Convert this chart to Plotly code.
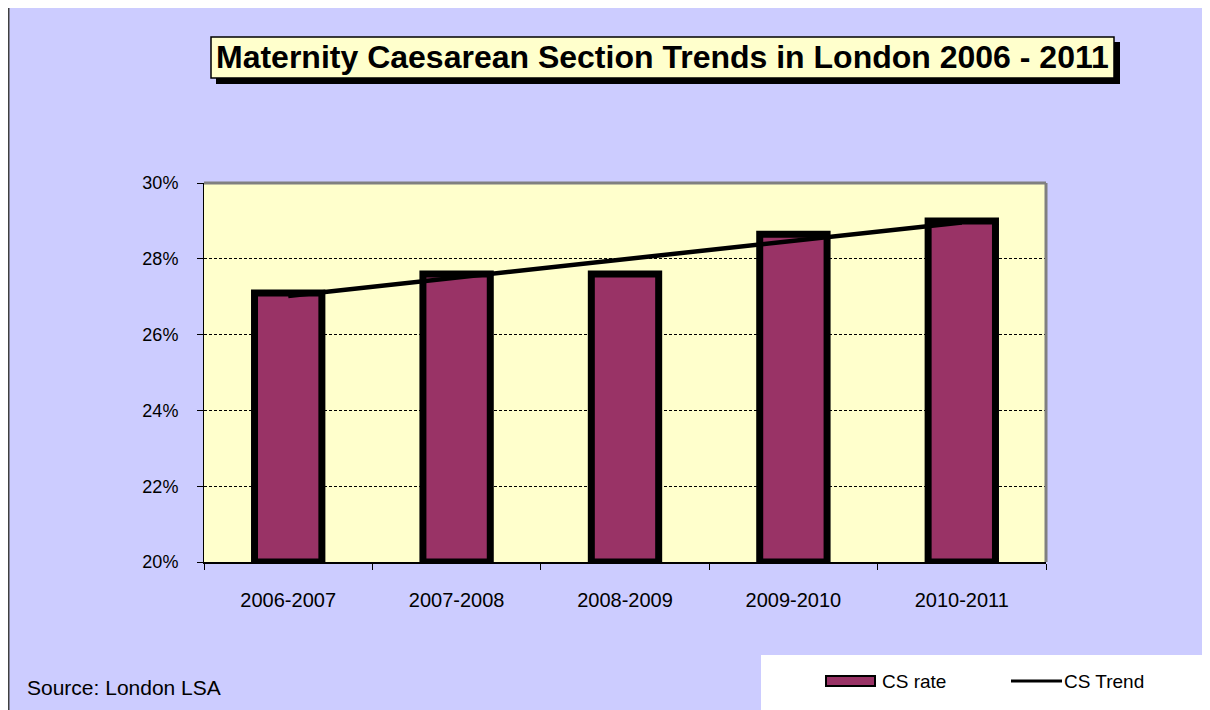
import numpy as np
import plotly.graph_objects as go

# ---- data ----
periods = ["2006-2007", "2007-2008", "2008-2009", "2009-2010", "2010-2011"]
cs_rate = [0.271, 0.276, 0.276, 0.2865, 0.290]
y_ticks = [0.20, 0.22, 0.24, 0.26, 0.28, 0.30]
title_text = "Maternity Caesarean Section Trends in London 2006 - 2011"
source_text = "Source: London LSA"
legend_labels = ["CS rate", "CS Trend"]

# linear trend line (least squares, as in the spreadsheet's trendline)
idx = np.arange(len(periods))
slope, intercept = np.polyfit(idx, cs_rate, 1)
cs_trend = list(slope * idx + intercept)

BASE = 0.20
OFF = 8  # page body margin
W, H = 1210 - OFF, 710 - OFF
L, R, T, B = 204, 1046, 183, 562  # plot area in screen pixels

def px(x):
    return (x - L) / (R - L)

def py(y):
    return (B - y) / (B - T)

FONT = "Liberation Sans, Arial, sans-serif"
BAR_COLOR = "#993366"

fig = go.Figure()
fig.add_trace(go.Bar(
    x=periods, y=[v - BASE for v in cs_rate], base=BASE,
    width=0.4, name=legend_labels[0],
    marker=dict(color=BAR_COLOR, line=dict(color="black", width=7)),
    showlegend=False,
))
fig.add_trace(go.Scatter(
    x=periods, y=cs_trend, mode="lines", name=legend_labels[1],
    line=dict(color="black", width=4.5), showlegend=False,
))

shapes = []
# plot area top and right border (gray)
shapes.append(dict(type="line", xref="paper", yref="paper", x0=0, x1=1, y0=1, y1=1,
                   line=dict(color="#808080", width=3)))
shapes.append(dict(type="line", xref="paper", yref="paper", x0=1, x1=1, y0=0, y1=1,
                   line=dict(color="#808080", width=3)))
# title box shadow and box
shapes.append(dict(type="rect", xref="paper", yref="paper",
                   x0=px(216), x1=px(1120), y0=py(84), y1=py(42),
                   fillcolor="black", line=dict(width=0)))
shapes.append(dict(type="rect", xref="paper", yref="paper",
                   x0=px(211), x1=px(1114), y0=py(78), y1=py(37),
                   fillcolor="#FFFFCC", line=dict(color="black", width=1.5)))
# legend box
shapes.append(dict(type="rect", xref="paper", yref="paper",
                   x0=px(761), x1=px(1204), y0=py(712), y1=py(655),
                   fillcolor="white", line=dict(width=0)))
# legend swatches
shapes.append(dict(type="rect", xref="paper", yref="paper",
                   x0=px(826), x1=px(875), y0=py(686), y1=py(676),
                   fillcolor=BAR_COLOR, line=dict(color="black", width=2)))
shapes.append(dict(type="line", xref="paper", yref="paper",
                   x0=px(1011), x1=px(1062), y0=py(681), y1=py(681),
                   line=dict(color="black", width=3)))
# outer frame lines
shapes.append(dict(type="line", xref="paper", yref="paper",
                   x0=px(8.75), x1=px(8.75), y0=py(0), y1=py(712),
                   line=dict(color="#404040", width=1.5)))
shapes.append(dict(type="line", xref="paper", yref="paper",
                   x0=px(1205), x1=px(1205), y0=py(0), y1=py(655),
                   line=dict(color="#404040", width=1.5)))

annotations = [
    dict(text=title_text, xref="paper", yref="paper", x=px(662.5), y=py(57.5),
         xanchor="center", yanchor="middle", showarrow=False,
         font=dict(family=FONT, size=32, color="black", weight="bold")),
    dict(text=source_text, xref="paper", yref="paper", x=px(25), y=py(687),
         xanchor="left", yanchor="middle", showarrow=False,
         font=dict(family=FONT, size=21, color="black")),
    dict(text=legend_labels[0], xref="paper", yref="paper", x=px(880), y=py(681),
         xanchor="left", yanchor="middle", showarrow=False,
         font=dict(family=FONT, size=19, color="black")),
    dict(text=legend_labels[1], xref="paper", yref="paper", x=px(1062), y=py(681),
         xanchor="left", yanchor="middle", showarrow=False,
         font=dict(family=FONT, size=19, color="black")),
]

fig.update_layout(
    width=W, height=H,
    margin=dict(l=L - OFF, r=1210 - R, t=T - OFF, b=710 - B, pad=0),
    paper_bgcolor="#CCCCFF", plot_bgcolor="#FFFFCC",
    font=dict(family=FONT, size=18, color="black"),
    showlegend=False,
    bargap=0.6,
    shapes=shapes, annotations=annotations,
)
fig.update_xaxes(
    type="category", tickson="boundaries", ticks="outside", ticklen=6,
    tickcolor="black", showline=True, linecolor="black", linewidth=2,
    showgrid=False, ticklabelstandoff=19,
    tickfont=dict(family=FONT, size=20, color="black"),
)
fig.update_yaxes(
    range=[0.20, 0.30], tickvals=y_ticks, tickformat=".0%", ticks="outside",
    ticklen=6, tickcolor="black", showline=True, linecolor="black", linewidth=1,
    showgrid=True, gridcolor="black", gridwidth=1, griddash="3px,2px",
    zeroline=False, ticklabelstandoff=15,
    tickfont=dict(family=FONT, size=18, color="black"),
)

fig.write_html("out.html")
